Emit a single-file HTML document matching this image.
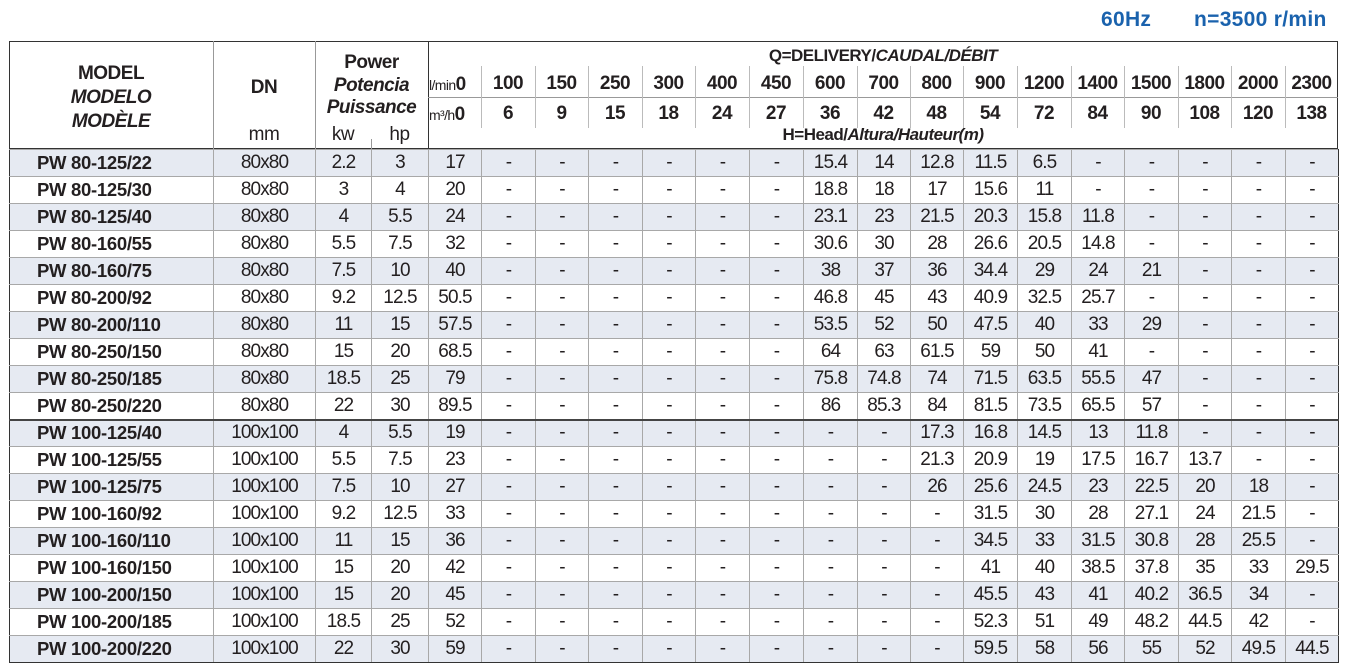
<!DOCTYPE html>
<html><head><meta charset="utf-8">
<style>
*{margin:0;padding:0;box-sizing:border-box}
body{width:1347px;height:672px;background:#fff;position:relative;overflow:hidden;font-family:"Liberation Sans",sans-serif;color:#231f20}
.a{position:absolute;white-space:nowrap;line-height:1}
.b{font-weight:bold}
.i{font-style:italic}
.t{position:absolute;font-weight:bold;color:#1a62ad;font-size:21px;top:8px;letter-spacing:0.3px}
#hdr{position:absolute;left:9px;top:41px;width:1329px;height:108px;border:1.5px solid #333;border-bottom:1.5px solid #333}
.vl{position:absolute;width:1px;background:#999}
.hl{position:absolute;height:1px;background:#999}
table{position:absolute;left:9px;top:149px;width:1329px;border-collapse:collapse;table-layout:fixed}
td{height:27px;border:1px solid #a8a8a8;text-align:center;font-size:19px;letter-spacing:-0.9px;padding:0;vertical-align:middle}
td:first-child{text-align:left;padding-left:27px;font-weight:bold;font-size:18.5px;letter-spacing:-0.3px;border-left:1.5px solid #333}
td:last-child{border-right:1.5px solid #333}
tr:nth-child(odd) td{background:#e6eaf2}
tr.sep td{border-top:2px solid #444}
tr:last-child td{border-bottom:1.5px solid #333}
.h{font-size:19px;letter-spacing:-0.5px}
</style></head><body>
<div class="t" style="left:1101px">60Hz</div>
<div class="t" style="left:1194px">n=3500 r/min</div>

<div id="hdr"></div>
<div class="vl" style="left:213px;top:41px;height:108px"></div>
<div class="vl" style="left:315px;top:41px;height:108px"></div>
<div class="vl" style="left:428px;top:41px;height:108px;background:#333"></div>
<div class="vl" style="left:371px;top:139px;height:10px"></div>
<div class="hl" style="left:428px;top:97px;width:910px"></div>
<div class="vl" style="left:481px;top:66px;height:62px;background:#bbb"></div>
<div class="vl" style="left:535px;top:66px;height:62px;background:#bbb"></div>
<div class="vl" style="left:588px;top:66px;height:62px;background:#bbb"></div>
<div class="vl" style="left:642px;top:66px;height:62px;background:#bbb"></div>
<div class="vl" style="left:695px;top:66px;height:62px;background:#bbb"></div>
<div class="vl" style="left:749px;top:66px;height:62px;background:#bbb"></div>
<div class="vl" style="left:803px;top:66px;height:62px;background:#bbb"></div>
<div class="vl" style="left:857px;top:66px;height:62px;background:#bbb"></div>
<div class="vl" style="left:910px;top:66px;height:62px;background:#bbb"></div>
<div class="vl" style="left:963px;top:66px;height:62px;background:#bbb"></div>
<div class="vl" style="left:1017px;top:66px;height:62px;background:#bbb"></div>
<div class="vl" style="left:1071px;top:66px;height:62px;background:#bbb"></div>
<div class="vl" style="left:1124px;top:66px;height:62px;background:#bbb"></div>
<div class="vl" style="left:1178px;top:66px;height:62px;background:#bbb"></div>
<div class="vl" style="left:1231px;top:66px;height:62px;background:#bbb"></div>
<div class="vl" style="left:1285px;top:66px;height:62px;background:#bbb"></div>

<div class="a b h" style="left:9px;width:204px;text-align:center;top:64px">MODEL</div>
<div class="a b i h" style="left:9px;width:204px;text-align:center;top:88px">MODELO</div>
<div class="a b i h" style="left:9px;width:204px;text-align:center;top:112px">MODÈLE</div>
<div class="a b h" style="left:213px;width:102px;text-align:center;top:78px">DN</div>
<div class="a h" style="left:213px;width:102px;text-align:center;top:125px">mm</div>
<div class="a b h" style="left:315px;width:113px;text-align:center;top:53px">Power</div>
<div class="a b i h" style="left:315px;width:113px;text-align:center;top:76px">Potencia</div>
<div class="a b i h" style="left:315px;width:113px;text-align:center;top:98px">Puissance</div>
<div class="a h" style="left:315px;width:56px;text-align:center;top:125px">kw</div>
<div class="a h" style="left:371px;width:57px;text-align:center;top:125px">hp</div>
<div class="a b" style="left:428px;width:910px;text-align:center;top:47px;font-size:17px;letter-spacing:-0.5px">Q=DELIVERY/<i>CAUDAL/DÉBIT</i></div>
<div class="a b" style="left:428px;width:910px;text-align:center;top:126px;font-size:17px;letter-spacing:-0.5px">H=Head/<i>Altura/Hauteur(m)</i></div>
<div class="a" style="left:429px;top:75px;font-size:14px;letter-spacing:-0.6px">l/min<b style="font-size:19px">0</b></div>
<div class="a" style="left:429px;top:105px;font-size:14px;letter-spacing:-0.6px">m³/h<b style="font-size:19px">0</b></div>

<div class="a b h" style="top:74px;left:481px;width:857px;display:flex">
<span style="width:54px;text-align:center">100</span><span style="width:53px;text-align:center">150</span><span style="width:54px;text-align:center">250</span><span style="width:53px;text-align:center">300</span><span style="width:54px;text-align:center">400</span><span style="width:54px;text-align:center">450</span><span style="width:54px;text-align:center">600</span><span style="width:53px;text-align:center">700</span><span style="width:53px;text-align:center">800</span><span style="width:54px;text-align:center">900</span><span style="width:54px;text-align:center">1200</span><span style="width:53px;text-align:center">1400</span><span style="width:54px;text-align:center">1500</span><span style="width:53px;text-align:center">1800</span><span style="width:54px;text-align:center">2000</span><span style="width:53px;text-align:center">2300</span>
</div>
<div class="a b h" style="top:104px;left:481px;width:857px;display:flex">
<span style="width:54px;text-align:center">6</span><span style="width:53px;text-align:center">9</span><span style="width:54px;text-align:center">15</span><span style="width:53px;text-align:center">18</span><span style="width:54px;text-align:center">24</span><span style="width:54px;text-align:center">27</span><span style="width:54px;text-align:center">36</span><span style="width:53px;text-align:center">42</span><span style="width:53px;text-align:center">48</span><span style="width:54px;text-align:center">54</span><span style="width:54px;text-align:center">72</span><span style="width:53px;text-align:center">84</span><span style="width:54px;text-align:center">90</span><span style="width:53px;text-align:center">108</span><span style="width:54px;text-align:center">120</span><span style="width:53px;text-align:center">138</span>
</div>

<table>
<colgroup><col style="width:204px"><col style="width:102px"><col style="width:56px"><col style="width:57px"><col style="width:53px">
<col style="width:54px"><col style="width:53px"><col style="width:54px"><col style="width:53px"><col style="width:54px"><col style="width:54px"><col style="width:54px"><col style="width:53px"><col style="width:53px"><col style="width:54px"><col style="width:54px"><col style="width:53px"><col style="width:54px"><col style="width:53px"><col style="width:54px"><col style="width:53px"></colgroup>
<tr><td>PW 80-125/22</td><td>80x80</td><td>2.2</td><td>3</td><td>17</td><td>-</td><td>-</td><td>-</td><td>-</td><td>-</td><td>-</td><td>15.4</td><td>14</td><td>12.8</td><td>11.5</td><td>6.5</td><td>-</td><td>-</td><td>-</td><td>-</td><td>-</td></tr>
<tr><td>PW 80-125/30</td><td>80x80</td><td>3</td><td>4</td><td>20</td><td>-</td><td>-</td><td>-</td><td>-</td><td>-</td><td>-</td><td>18.8</td><td>18</td><td>17</td><td>15.6</td><td>11</td><td>-</td><td>-</td><td>-</td><td>-</td><td>-</td></tr>
<tr><td>PW 80-125/40</td><td>80x80</td><td>4</td><td>5.5</td><td>24</td><td>-</td><td>-</td><td>-</td><td>-</td><td>-</td><td>-</td><td>23.1</td><td>23</td><td>21.5</td><td>20.3</td><td>15.8</td><td>11.8</td><td>-</td><td>-</td><td>-</td><td>-</td></tr>
<tr><td>PW 80-160/55</td><td>80x80</td><td>5.5</td><td>7.5</td><td>32</td><td>-</td><td>-</td><td>-</td><td>-</td><td>-</td><td>-</td><td>30.6</td><td>30</td><td>28</td><td>26.6</td><td>20.5</td><td>14.8</td><td>-</td><td>-</td><td>-</td><td>-</td></tr>
<tr><td>PW 80-160/75</td><td>80x80</td><td>7.5</td><td>10</td><td>40</td><td>-</td><td>-</td><td>-</td><td>-</td><td>-</td><td>-</td><td>38</td><td>37</td><td>36</td><td>34.4</td><td>29</td><td>24</td><td>21</td><td>-</td><td>-</td><td>-</td></tr>
<tr><td>PW 80-200/92</td><td>80x80</td><td>9.2</td><td>12.5</td><td>50.5</td><td>-</td><td>-</td><td>-</td><td>-</td><td>-</td><td>-</td><td>46.8</td><td>45</td><td>43</td><td>40.9</td><td>32.5</td><td>25.7</td><td>-</td><td>-</td><td>-</td><td>-</td></tr>
<tr><td>PW 80-200/110</td><td>80x80</td><td>11</td><td>15</td><td>57.5</td><td>-</td><td>-</td><td>-</td><td>-</td><td>-</td><td>-</td><td>53.5</td><td>52</td><td>50</td><td>47.5</td><td>40</td><td>33</td><td>29</td><td>-</td><td>-</td><td>-</td></tr>
<tr><td>PW 80-250/150</td><td>80x80</td><td>15</td><td>20</td><td>68.5</td><td>-</td><td>-</td><td>-</td><td>-</td><td>-</td><td>-</td><td>64</td><td>63</td><td>61.5</td><td>59</td><td>50</td><td>41</td><td>-</td><td>-</td><td>-</td><td>-</td></tr>
<tr><td>PW 80-250/185</td><td>80x80</td><td>18.5</td><td>25</td><td>79</td><td>-</td><td>-</td><td>-</td><td>-</td><td>-</td><td>-</td><td>75.8</td><td>74.8</td><td>74</td><td>71.5</td><td>63.5</td><td>55.5</td><td>47</td><td>-</td><td>-</td><td>-</td></tr>
<tr><td>PW 80-250/220</td><td>80x80</td><td>22</td><td>30</td><td>89.5</td><td>-</td><td>-</td><td>-</td><td>-</td><td>-</td><td>-</td><td>86</td><td>85.3</td><td>84</td><td>81.5</td><td>73.5</td><td>65.5</td><td>57</td><td>-</td><td>-</td><td>-</td></tr>
<tr class="sep"><td>PW 100-125/40</td><td>100x100</td><td>4</td><td>5.5</td><td>19</td><td>-</td><td>-</td><td>-</td><td>-</td><td>-</td><td>-</td><td>-</td><td>-</td><td>17.3</td><td>16.8</td><td>14.5</td><td>13</td><td>11.8</td><td>-</td><td>-</td><td>-</td></tr>
<tr><td>PW 100-125/55</td><td>100x100</td><td>5.5</td><td>7.5</td><td>23</td><td>-</td><td>-</td><td>-</td><td>-</td><td>-</td><td>-</td><td>-</td><td>-</td><td>21.3</td><td>20.9</td><td>19</td><td>17.5</td><td>16.7</td><td>13.7</td><td>-</td><td>-</td></tr>
<tr><td>PW 100-125/75</td><td>100x100</td><td>7.5</td><td>10</td><td>27</td><td>-</td><td>-</td><td>-</td><td>-</td><td>-</td><td>-</td><td>-</td><td>-</td><td>26</td><td>25.6</td><td>24.5</td><td>23</td><td>22.5</td><td>20</td><td>18</td><td>-</td></tr>
<tr><td>PW 100-160/92</td><td>100x100</td><td>9.2</td><td>12.5</td><td>33</td><td>-</td><td>-</td><td>-</td><td>-</td><td>-</td><td>-</td><td>-</td><td>-</td><td>-</td><td>31.5</td><td>30</td><td>28</td><td>27.1</td><td>24</td><td>21.5</td><td>-</td></tr>
<tr><td>PW 100-160/110</td><td>100x100</td><td>11</td><td>15</td><td>36</td><td>-</td><td>-</td><td>-</td><td>-</td><td>-</td><td>-</td><td>-</td><td>-</td><td>-</td><td>34.5</td><td>33</td><td>31.5</td><td>30.8</td><td>28</td><td>25.5</td><td>-</td></tr>
<tr><td>PW 100-160/150</td><td>100x100</td><td>15</td><td>20</td><td>42</td><td>-</td><td>-</td><td>-</td><td>-</td><td>-</td><td>-</td><td>-</td><td>-</td><td>-</td><td>41</td><td>40</td><td>38.5</td><td>37.8</td><td>35</td><td>33</td><td>29.5</td></tr>
<tr><td>PW 100-200/150</td><td>100x100</td><td>15</td><td>20</td><td>45</td><td>-</td><td>-</td><td>-</td><td>-</td><td>-</td><td>-</td><td>-</td><td>-</td><td>-</td><td>45.5</td><td>43</td><td>41</td><td>40.2</td><td>36.5</td><td>34</td><td>-</td></tr>
<tr><td>PW 100-200/185</td><td>100x100</td><td>18.5</td><td>25</td><td>52</td><td>-</td><td>-</td><td>-</td><td>-</td><td>-</td><td>-</td><td>-</td><td>-</td><td>-</td><td>52.3</td><td>51</td><td>49</td><td>48.2</td><td>44.5</td><td>42</td><td>-</td></tr>
<tr><td>PW 100-200/220</td><td>100x100</td><td>22</td><td>30</td><td>59</td><td>-</td><td>-</td><td>-</td><td>-</td><td>-</td><td>-</td><td>-</td><td>-</td><td>-</td><td>59.5</td><td>58</td><td>56</td><td>55</td><td>52</td><td>49.5</td><td>44.5</td></tr>
</table>
</body></html>
